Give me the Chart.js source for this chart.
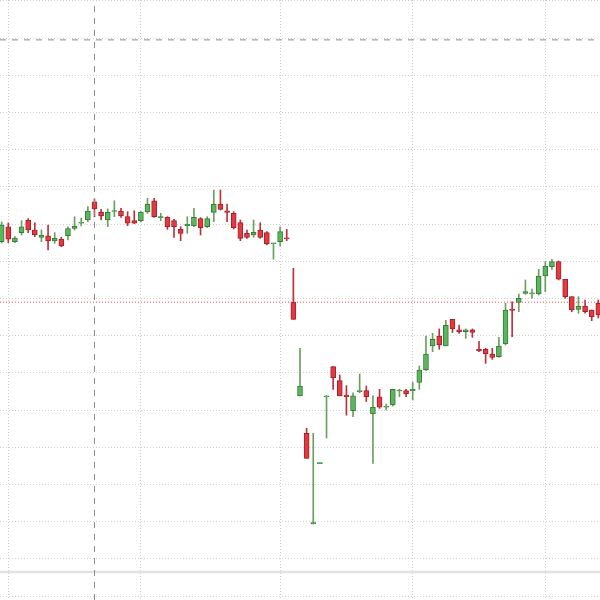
<!DOCTYPE html>
<html>
<head>
<meta charset="utf-8">
<script src="https://cdn.jsdelivr.net/npm/chart.js@4/dist/chart.umd.min.js"></script>
<style>
  html, body { margin: 0; padding: 0; background: #ffffff; }
  canvas { display: block; }
</style>
</head>
<body>
<canvas id="priceChart" width="600" height="600"></canvas>
<script>
// candle values, one entry per session
const opens = [
  115.25, 119.28, 115.25, 117.67, 121.08, 118.40, 116.43, 116.86, 115.44, 115.98,
  116.86, 118.80, 120.20, 121.08, 126.00, 123.23, 121.08, 123.37, 123.50, 121.97,
  120.90, 120.90, 123.23, 126.27, 121.70, 121.81, 120.90, 118.58, 119.55, 119.47,
  121.46, 119.28, 123.15, 125.38, 123.58, 122.88, 120.36, 117.48, 117.05, 118.40,
  117.67, 114.69, 115.25, 116.32, 98.96, 73.83, 63.75, 39.37, 55.60, 73.56,
  81.65, 77.90, 74.04, 69.82, 74.93, 75.20, 68.94, 73.58, 70.79, 71.36,
  75.12, 75.20, 75.20, 77.40, 80.76, 87.22, 89.90, 87.22, 94.39, 91.54,
  91.09, 91.54, 86.33, 86.33, 85.06, 84.34, 87.75, 97.16, 98.96, 101.38,
  101.19, 101.19, 106.03, 108.54, 109.88, 105.15, 100.47, 97.08, 97.97, 96.89,
  98.69,
];
const highs = [
  120.55, 120.28, 116.60, 120.90, 121.46, 120.36, 118.40, 119.74, 117.67, 116.43,
  119.28, 121.97, 121.59, 124.66, 126.73, 123.96, 124.04, 126.27, 124.23, 123.32,
  123.58, 123.32, 126.92, 126.92, 122.88, 121.97, 121.27, 119.28, 121.97, 124.23,
  121.73, 121.97, 129.15, 129.15, 125.38, 123.32, 121.08, 118.40, 121.08, 120.36,
  117.94, 114.82, 119.28, 118.58, 108.10, 86.60, 65.10, 63.75, 55.70, 73.83,
  81.65, 79.42, 76.57, 74.66, 79.69, 76.46, 73.83, 75.56, 71.62, 75.58,
  75.58, 75.58, 77.40, 81.84, 89.90, 90.63, 91.81, 94.12, 94.39, 92.86,
  91.81, 91.81, 88.44, 86.60, 86.60, 89.55, 98.69, 99.12, 101.19, 104.96,
  102.54, 107.83, 109.88, 110.52, 110.07, 105.15, 100.47, 100.47, 99.58, 96.92,
  99.58,
];
const lows = [
  114.90, 115.00, 115.00, 117.05, 117.67, 116.60, 115.25, 113.02, 114.82, 113.92,
  115.71, 118.40, 119.47, 120.63, 121.97, 121.08, 119.28, 121.97, 121.81, 119.55,
  120.09, 120.63, 122.88, 121.81, 120.90, 118.58, 116.43, 115.52, 117.50, 119.28,
  117.05, 119.04, 120.63, 123.77, 120.63, 118.66, 115.52, 116.16, 116.43, 116.16,
  114.36, 110.55, 114.10, 115.52, 94.39, 73.83, 57.03, 39.37, 55.60, 62.47,
  75.56, 73.83, 68.62, 68.22, 74.66, 72.30, 55.68, 70.46, 70.01, 71.09,
  73.58, 73.58, 72.70, 75.56, 80.57, 85.68, 86.33, 87.22, 90.84, 90.63,
  89.28, 89.55, 85.68, 82.56, 83.63, 84.17, 87.48, 89.72, 96.43, 101.11,
  100.04, 100.92, 101.81, 107.83, 104.96, 100.04, 96.43, 96.01, 96.01, 94.02,
  94.74,
];
const closes = [
  119.74, 115.90, 116.24, 119.28, 118.40, 117.05, 117.05, 115.44, 116.16, 114.10,
  118.80, 119.47, 120.55, 123.50, 124.04, 122.16, 123.15, 123.56, 122.16, 120.20,
  120.20, 123.23, 125.38, 121.97, 121.97, 119.28, 119.28, 117.50, 119.93, 121.81,
  119.04, 121.46, 125.38, 123.96, 123.15, 119.04, 116.16, 116.43, 117.78, 116.43,
  114.63, 114.82, 117.94, 115.98, 94.39, 76.46, 57.03, 39.77, 55.70, 73.83,
  78.69, 73.83, 73.58, 73.83, 75.20, 73.58, 70.79, 70.79, 71.09, 75.58,
  75.39, 74.31, 75.58, 80.76, 85.06, 89.02, 87.48, 92.78, 91.81, 91.09,
  91.54, 90.84, 85.95, 85.06, 84.17, 87.22, 96.89, 96.81, 100.04, 101.81,
  101.54, 106.03, 108.72, 109.88, 105.15, 100.47, 96.89, 97.97, 96.43, 95.09,
  95.55,
];

// grid positions (session index) and price levels
const xGridIndexes = [1, 21, 42, 62, 82];
const yGridLevels = [20, 30, 40, 50, 60, 70, 80, 90, 100, 110, 120, 130, 140, 150, 160, 170, 180];
const yMin = 18.94;
const yMax = 180.22;

// reference lines
const lastPrice = 99.0;
const crosshairIndex = 14;
const crosshairPrice = 169.5;
const paneBottom = 26.46;

const upFill = "#5bb65e";
const upLine = "#357a38";
const downFill = "#e33a42";
const downLine = "#a3212a";

const isUp = opens.map((open, i) => closes[i] >= open);

const wickData = highs.map((high, i) => ({ x: i, y: [lows[i], high] }));
const bodyData = opens.map((open, i) => ({ x: i, y: [open, closes[i]] }));

const xMin = -0.25;
const xMax = opens.length - 0.75;

new Chart(document.getElementById("priceChart"), {
  data: {
    datasets: [
      {
        type: "bar",
        data: bodyData,
        grouped: false,
        order: 1,
        barThickness: 5,
        minBarLength: 1,
        backgroundColor: isUp.map((up) => (up ? upFill : downFill)),
        borderColor: isUp.map((up) => (up ? upLine : downLine)),
        borderWidth: 1,
        borderSkipped: false,
      },
      {
        type: "bar",
        data: wickData,
        grouped: false,
        order: 2,
        barThickness: 1,
        minBarLength: 1,
        backgroundColor: isUp.map((up) => (up ? "#6aa05e" : "#c0303a")),
        borderWidth: 0,
      },
      {
        type: "line",
        data: [{ x: xMin, y: lastPrice }, { x: xMax, y: lastPrice }],
        order: 0,
        borderColor: "#f0484e",
        borderWidth: 1,
        borderDash: [1, 2],
        pointRadius: 0,
      },
      {
        type: "line",
        data: [{ x: xMin, y: crosshairPrice }, { x: xMax, y: crosshairPrice }],
        order: 0,
        borderColor: "#8a8a8a",
        borderWidth: 1,
        borderDash: [6, 6],
        pointRadius: 0,
      },
      {
        type: "line",
        data: [{ x: crosshairIndex, y: yMin }, { x: crosshairIndex, y: yMax }],
        order: 0,
        borderColor: "#8a8a8a",
        borderWidth: 1,
        borderDash: [6, 6],
        pointRadius: 0,
      },
      {
        type: "line",
        data: [{ x: xMin, y: paneBottom }, { x: xMax, y: paneBottom }],
        order: 3,
        borderColor: "#e2e2e2",
        borderWidth: 2.5,
        pointRadius: 0,
      },
    ],
  },
  options: {
    responsive: false,
    animation: false,
    layout: { padding: 0 },
    plugins: {
      legend: { display: false },
      tooltip: { enabled: false },
    },
    scales: {
      x: {
        type: "linear",
        min: xMin,
        max: xMax,
        offset: false,
        afterBuildTicks: (scale) => {
          scale.ticks = xGridIndexes.map((value) => ({ value: value }));
        },
        afterFit: (scale) => {
          scale.height = 0;
        },
        ticks: { display: false },
        grid: { color: "#cfcfcf", drawTicks: false, offset: false },
        border: { display: false, dash: [1, 2] },
      },
      y: {
        type: "linear",
        min: yMin,
        max: yMax,
        afterBuildTicks: (scale) => {
          scale.ticks = yGridLevels.map((value) => ({ value: value }));
        },
        afterFit: (scale) => {
          scale.width = 0;
        },
        ticks: { display: false },
        grid: { color: "#cfcfcf", drawTicks: false },
        border: { display: false, dash: [1, 2] },
      },
    },
  },
});
</script>
</body>
</html>
